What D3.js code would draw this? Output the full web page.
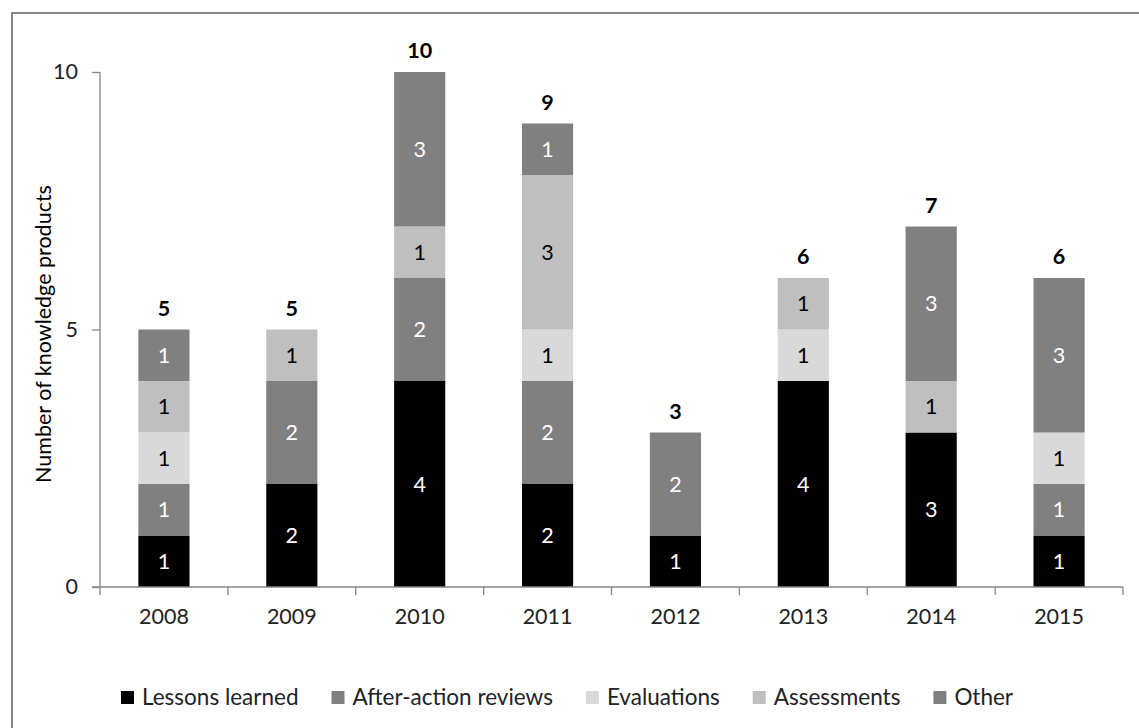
<!DOCTYPE html>
<html><head><meta charset="utf-8">
<script src="https://cdn.jsdelivr.net/npm/d3@7"></script>
<style>
html,body{margin:0;padding:0;background:#fff;}
svg{display:block;font-family:Lato,"Open Sans",sans-serif;}
</style></head>
<body>
<svg id="chart" width="1139" height="728"></svg>
<script>
const years = ["2008","2009","2010","2011","2012","2013","2014","2015"];
const seriesNames = ["Lessons learned","After-action reviews","Evaluations","Assessments","Other"];
const lessonsLearned     = [1,2,4,2,1,4,3,1];
const afterActionReviews = [1,2,2,2,2,0,0,1];
const evaluations        = [1,0,0,1,0,1,0,1];
const assessments        = [1,1,1,3,0,1,1,0];
const other              = [1,0,3,1,0,0,3,3];
const yTicks = [0,5,10];
const colors = ["#000000","#808080","#d9d9d9","#bfbfbf","#808080"];
const labelColors = ["#ffffff","#ffffff","#000000","#000000","#ffffff"];

const seriesValues = [lessonsLearned, afterActionReviews, evaluations, assessments, other];
const rows = years.map((y,i)=>{
  const r = {year:y};
  seriesNames.forEach((s,k)=>{ r[s]=seriesValues[k][i]; });
  return r;
});
const totals = years.map((y,i)=>d3.sum(seriesValues,v=>v[i]));

const svg = d3.select("#chart");
const axisColor = "#868686";
const fontSize = 21.5;
const legendFont = 22.5;

// outer frame
svg.append("rect").attr("x",12).attr("y",13).attr("width",1140).attr("height",730)
  .attr("fill","none").attr("stroke",axisColor).attr("stroke-width",2);

const x = d3.scaleBand().domain(years).range([100,1123]).paddingInner(0.6).paddingOuter(0.3);
const y = d3.scaleLinear().domain([0,10]).range([587,72]);

const stack = d3.stack().keys(seriesNames)(rows);

// bars
const layers = svg.append("g").selectAll("g").data(stack).join("g")
  .attr("fill",(d,i)=>colors[i]);
layers.selectAll("rect").data(d=>d.filter(p=>p[1]-p[0]>0)).join("rect")
  .attr("x",d=>x(d.data.year)).attr("width",x.bandwidth())
  .attr("y",d=>y(d[1])).attr("height",d=>y(d[0])-y(d[1]));

// segment labels
stack.forEach((layer,i)=>{
  svg.append("g").selectAll("text").data(layer.filter(p=>p[1]-p[0]>0)).join("text")
    .attr("x",d=>x(d.data.year)+x.bandwidth()/2)
    .attr("y",d=>(y(d[0])+y(d[1]))/2)
    .attr("dy","0.36em").attr("text-anchor","middle")
    .attr("font-size",fontSize).attr("fill",labelColors[i])
    .text(d=>d[1]-d[0]);
});

// totals
svg.append("g").selectAll("text").data(years).join("text")
  .attr("x",d=>x(d)+x.bandwidth()/2)
  .attr("y",(d,i)=>y(totals[i])-14)
  .attr("text-anchor","middle").attr("font-size",fontSize).attr("font-weight","bold")
  .attr("fill","#000").text((d,i)=>totals[i]);

// y axis
const yAxis = svg.append("g").attr("transform","translate(100,0)")
  .call(d3.axisLeft(y).tickValues(yTicks).tickSize(8).tickPadding(14));
yAxis.selectAll("path,line").attr("stroke",axisColor).attr("stroke-width",1.3);
yAxis.select(".domain").attr("d","M0,72V587");
yAxis.selectAll("text").attr("font-size",fontSize).attr("font-family","Lato,'Open Sans',sans-serif").attr("fill","#222");

// x axis
const xAxis = svg.append("g").attr("transform","translate(0,587)")
  .call(d3.axisBottom(x).tickSize(0).tickPadding(22));
xAxis.select(".domain").attr("d","M92,0H1123").attr("stroke",axisColor).attr("stroke-width",1.3);
xAxis.selectAll("text").attr("font-size",fontSize).attr("font-family","Lato,'Open Sans',sans-serif").attr("fill","#222");
const bounds = years.map(d=>x(d)-x.step()*x.paddingInner()/2);
bounds.push(1123);
xAxis.selectAll("line.sep").data(bounds).join("line").attr("class","sep")
  .attr("x1",d=>d).attr("x2",d=>d).attr("y1",0).attr("y2",8)
  .attr("stroke",axisColor).attr("stroke-width",1.3);

// y title
svg.append("text").attr("transform","translate(43,334) rotate(-90)")
  .attr("text-anchor","middle").attr("dy","0.36em").attr("font-size",fontSize).attr("fill","#000")
  .text("Number of knowledge products");

// legend
const legend = svg.append("g");
let lx = 121;
seriesNames.forEach((s,i)=>{
  legend.append("rect").attr("x",lx).attr("y",691).attr("width",13).attr("height",13).attr("fill",colors[i]);
  const t = legend.append("text").attr("x",lx+21).attr("y",697).attr("dy","0.36em")
    .attr("font-size",legendFont).attr("fill","#222").text(s);
  lx += 21 + t.node().getComputedTextLength() + 33;
});
</script>
</body></html>
